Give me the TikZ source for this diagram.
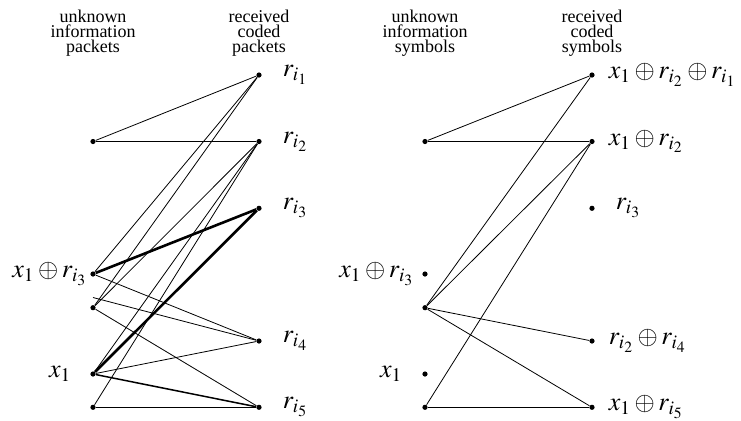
\documentclass[tikz,border=0pt]{standalone}
\usepackage{mathptmx}
\usepackage{fontspec}
\setmainfont{Liberation Serif}
\usepackage{tikz}
\usetikzlibrary{positioning}

\begin{document}
\begin{tikzpicture}[
    x=0.5pt, y=-0.5pt,
    dot/.style={circle, fill=black, inner sep=0pt, minimum size=2.6pt},
    head/.style={align=center, anchor=north, inner sep=0pt,
                 font=\fontsize{9}{7.5}\selectfont},
    lbl/.style={inner sep=0pt, font=\fontsize{13}{15}\selectfont},
    edge/.style={line width=0.4pt},
    medium/.style={line width=0.75pt},
    heavy/.style={line width=1.3pt}
]
\useasboundingbox (0,0) rectangle (741,420);

% headers
\node[head] (hip) at (93,9.5) {unknown\\information\\packets};
\node[head] (hcp) at (259,9.5) {received\\coded\\packets};
\node[head] (his) at (425,9.5) {unknown\\information\\symbols};
\node[head] (hcs) at (592,9.5) {received\\coded\\symbols};

% left graph: packets
\node[dot] (ip1) at (93,141.5) {};
\node[dot] (ip2) at (93,274) {};
\node[dot] (ip3) at (93,307.7) {};
\coordinate (ip3b) at (93,297.5);
\node[dot] (ip4) at (93,374) {};
\node[dot] (ip5) at (93,407.3) {};

\node[dot] (cp1) at (259,75) {};
\node[dot] (cp2) at (259,141.5) {};
\node[dot] (cp3) at (259,208.3) {};
\node[dot] (cp4) at (259,341) {};
\node[dot] (cp5) at (259,407.3) {};

\node[lbl, left=1.2pt of ip2] {$x_1 \oplus r_{i_3}$};
\node[lbl, left=9.2pt of ip4] {$x_1$};
\node[lbl, right=10.2pt of cp1] {$r_{i_1}$};
\node[lbl, right=10.2pt of cp2] {$r_{i_2}$};
\node[lbl, right=10.2pt of cp3] {$r_{i_3}$};
\node[lbl, right=10.2pt of cp4] {$r_{i_4}$};
\node[lbl, right=10.2pt of cp5] {$r_{i_5}$};

\draw[edge] (ip1) -- (cp1);
\draw[edge] (ip1) -- (cp2);
\draw[edge] (ip2) -- (cp1);
\draw[edge] (ip3) -- (cp1);
\draw[edge] (ip3) -- (cp2);
\draw[edge] (ip4) -- (cp2);
\draw[edge] (ip5) -- (cp2);
\draw[heavy] (ip2) -- (cp3);
\draw[heavy] (ip4) -- (cp3);
\draw[edge] (ip2) -- (cp4);
\draw[edge] (ip3b) -- (cp4);
\draw[edge] (ip4) -- (cp4);
\draw[edge] (ip3) -- (cp5);
\draw[medium] (ip4) -- (cp5);
\draw[edge] (ip5) -- (cp5);

% right graph: symbols
\node[dot] (is1) at (425,141.5) {};
\node[dot] (is2) at (425,274) {};
\node[dot] (is3) at (425,307.7) {};
\node[dot] (is4) at (425,374) {};
\node[dot] (is5) at (425,407.3) {};

\node[dot] (cs1) at (592,75) {};
\node[dot] (cs2) at (592,141.5) {};
\node[dot] (cs3) at (592,208.3) {};
\node[dot] (cs4) at (592,341) {};
\node[dot] (cs5) at (592,407.3) {};

\node[lbl, left=3.7pt of is2] {$x_1 \oplus r_{i_3}$};
\node[lbl, left=9.7pt of is4] {$x_1$};
\node[lbl, right=6.7pt of cs1] {$x_1 \oplus r_{i_2} \oplus r_{i_1}$};
\node[lbl, right=6.7pt of cs2] {$x_1 \oplus r_{i_2}$};
\node[lbl, right=10.2pt of cs3] {$r_{i_3}$};
\node[lbl, right=6.7pt of cs4] {$r_{i_2} \oplus r_{i_4}$};
\node[lbl, right=6.7pt of cs5] {$x_1 \oplus r_{i_5}$};

\draw[edge] (is1) -- (cs1);
\draw[edge] (is1) -- (cs2);
\draw[edge] (is3) -- (cs1);
\draw[edge] (is3) -- (cs2);
\draw[edge] (is5) -- (cs2);
\draw[edge] (is3) -- (cs4);
\draw[edge] (is3) -- (cs5);
\draw[edge] (is5) -- (cs5);

\end{tikzpicture}
\end{document}
